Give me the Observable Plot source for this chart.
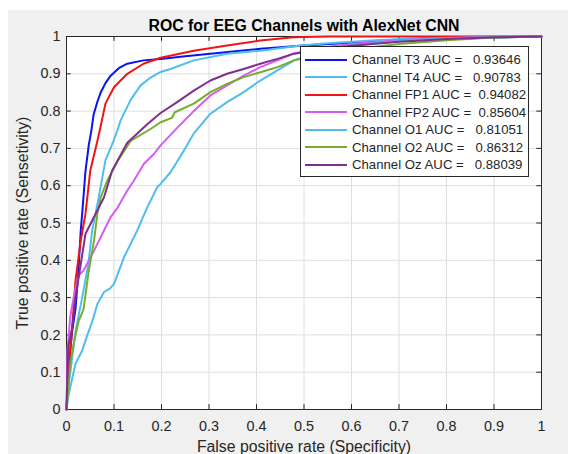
<!DOCTYPE html>
<html>
<head>
<meta charset="utf-8">
<script src="https://cdn.jsdelivr.net/npm/d3@7"></script>
<script src="https://cdn.jsdelivr.net/npm/@observablehq/plot@0.6"></script>
<style>
  body { margin: 0; background: #ffffff; }
  #wrap { position: relative; width: 568px; height: 454px; overflow: hidden; font-family: "Liberation Sans", Arial, sans-serif; }
  #bg { position: absolute; left: 8px; top: 10px; width: 560px; height: 444px; background: #f0f0f0; }
  #chart { position: absolute; left: 0; top: 0; }
  #legend { position: absolute; left: 300px; top: 46px; width: 227px; height: 125px; background: #fff; border: 1px solid #262626; padding-top: 4px; box-sizing: content-box; }
  .row { display: flex; align-items: center; height: 17.5px; }
  .sw { width: 42px; height: 2px; margin-left: 4px; margin-right: 5px; }
  .lab { font-size: 13.2px; color: #262626; white-space: pre; }
</style>
</head>
<body>
<div id="wrap"><div id="bg"></div><div id="chart"></div><div id="legend"></div></div>
<script>
const titleText = "ROC for EEG Channels with AlexNet CNN";
const xLabel = "False positive rate (Specificity)";
const yLabel = "True positive rate (Sensetivity)";
const xTicks = [0, 0.1, 0.2, 0.3, 0.4, 0.5, 0.6, 0.7, 0.8, 0.9, 1];
const yTicks = [0, 0.1, 0.2, 0.3, 0.4, 0.5, 0.6, 0.7, 0.8, 0.9, 1];

const channels = ["T3", "T4", "FP1", "FP2", "O1", "O2", "Oz"];
const aucs = ["0.93646", "0.90783", "0.94082", "0.85604", "0.81051", "0.86312", "0.88039"];
const pads = ["   ", "   ", "  ", "  ", "   ", "   ", "   "];
const colors = ["#0a14f0", "#4dbeee", "#f01414", "#d65cf2", "#4dbeee", "#77ac30", "#7e2f8e"];

const rocT3 = [[0,0],[0.003,0.08],[0.008,0.16],[0.012,0.21],[0.019,0.27],[0.025,0.37],[0.03,0.48],[0.033,0.525],[0.04,0.64],[0.047,0.71],[0.052,0.745],[0.057,0.79],[0.065,0.825],[0.072,0.85],[0.082,0.875],[0.093,0.895],[0.11,0.915],[0.128,0.927],[0.162,0.936],[0.198,0.94],[0.25,0.947],[0.303,0.954],[0.35,0.96],[0.408,0.967],[0.5,0.976],[0.6,0.983],[0.7,0.988],[0.8,0.993],[0.9,0.997],[1,1]];
const rocT4 = [[0,0],[0.005,0.07],[0.011,0.13],[0.019,0.21],[0.033,0.3],[0.046,0.39],[0.054,0.48],[0.068,0.57],[0.082,0.668],[0.099,0.72],[0.107,0.748],[0.114,0.775],[0.135,0.83],[0.156,0.869],[0.177,0.89],[0.198,0.905],[0.219,0.913],[0.268,0.936],[0.338,0.954],[0.408,0.962],[0.493,0.976],[0.55,0.982],[0.65,0.99],[0.75,0.996],[0.85,0.999],[1,1]];
const rocFP1 = [[0,0],[0.004,0.1],[0.008,0.16],[0.012,0.22],[0.019,0.346],[0.03,0.453],[0.04,0.525],[0.05,0.64],[0.065,0.72],[0.072,0.76],[0.082,0.82],[0.1,0.864],[0.128,0.9],[0.162,0.927],[0.198,0.943],[0.268,0.962],[0.338,0.976],[0.408,0.989],[0.478,0.998],[0.55,1],[1,1]];
const rocFP2 = [[0,0],[0.001,0.06],[0.002,0.16],[0.008,0.25],[0.018,0.32],[0.026,0.36],[0.036,0.373],[0.058,0.426],[0.075,0.47],[0.093,0.516],[0.107,0.54],[0.128,0.587],[0.141,0.612],[0.163,0.659],[0.184,0.685],[0.198,0.708],[0.233,0.755],[0.268,0.8],[0.303,0.842],[0.338,0.869],[0.373,0.895],[0.408,0.918],[0.444,0.936],[0.478,0.954],[0.52,0.967],[0.6,0.98],[0.7,0.99],[0.8,0.996],[0.9,0.999],[1,1]];
const rocO1 = [[0,0],[0.003,0.03],[0.008,0.06],[0.019,0.123],[0.033,0.158],[0.044,0.2],[0.054,0.235],[0.065,0.283],[0.079,0.315],[0.092,0.325],[0.1,0.337],[0.121,0.408],[0.149,0.48],[0.17,0.542],[0.191,0.596],[0.198,0.605],[0.219,0.636],[0.233,0.665],[0.247,0.694],[0.268,0.74],[0.303,0.793],[0.338,0.824],[0.373,0.851],[0.408,0.882],[0.444,0.909],[0.479,0.936],[0.52,0.955],[0.6,0.975],[0.7,0.988],[0.8,0.995],[0.9,0.998],[1,1]];
const rocO2 = [[0,0],[0.004,0.06],[0.008,0.123],[0.015,0.176],[0.026,0.239],[0.03,0.25],[0.036,0.27],[0.047,0.373],[0.058,0.453],[0.065,0.525],[0.072,0.569],[0.086,0.614],[0.107,0.665],[0.135,0.72],[0.177,0.752],[0.198,0.77],[0.222,0.782],[0.228,0.797],[0.268,0.82],[0.303,0.851],[0.338,0.873],[0.373,0.891],[0.408,0.904],[0.444,0.918],[0.479,0.936],[0.52,0.947],[0.6,0.965],[0.7,0.98],[0.8,0.99],[0.9,0.997],[1,1]];
const rocOz = [[0,0],[0.002,0.1],[0.004,0.17],[0.012,0.22],[0.019,0.3],[0.03,0.39],[0.04,0.471],[0.058,0.516],[0.079,0.569],[0.096,0.64],[0.128,0.715],[0.17,0.765],[0.198,0.795],[0.233,0.824],[0.268,0.855],[0.303,0.882],[0.338,0.9],[0.373,0.913],[0.408,0.927],[0.444,0.94],[0.479,0.954],[0.52,0.962],[0.6,0.975],[0.7,0.986],[0.8,0.993],[0.9,0.998],[1,1]];
const rocs = [rocT3, rocT4, rocFP1, rocFP2, rocO1, rocO2, rocOz];

const ink = "#262626";
const lineMarks = rocs.map((r, i) => Plot.line(r, {x: d => d[0], y: d => d[1], stroke: colors[i], strokeWidth: 2}));

const plot = Plot.plot({
  width: 568,
  height: 454,
  marginLeft: 66,
  marginRight: 27,
  marginTop: 36,
  marginBottom: 45,
  style: {fontFamily: "'Liberation Sans', Arial, sans-serif", fontSize: "14px", background: "transparent", color: ink},
  x: {domain: [0, 1], label: null},
  y: {domain: [0, 1], label: null},
  marks: [
    Plot.frame({fill: "white", stroke: null}),
    Plot.gridX(xTicks, {stroke: "#dedede", strokeOpacity: 1}),
    Plot.gridY(yTicks, {stroke: "#dedede", strokeOpacity: 1}),
    Plot.frame({stroke: ink, strokeWidth: 1}),
    Plot.ruleX(xTicks, {x: d => d, y1: 0, y2: 0.013, stroke: ink}),
    Plot.ruleX(xTicks, {x: d => d, y1: 1, y2: 0.987, stroke: ink}),
    Plot.ruleY(yTicks, {y: d => d, x1: 0, x2: 0.01, stroke: ink}),
    Plot.ruleY(yTicks, {y: d => d, x1: 1, x2: 0.99, stroke: ink}),
    ...lineMarks,
    Plot.axisX(xTicks, {anchor: "bottom", tickSize: 0, tickPadding: 11, tickFormat: d => String(d), fontSize: 14.4, fill: ink, label: null}),
    Plot.axisY(yTicks, {anchor: "left", tickSize: 0, tickPadding: 6, tickFormat: d => String(d), fontSize: 14.4, fill: ink, label: null}),
    Plot.text([titleText], {frameAnchor: "top", dy: -11, lineAnchor: "middle", textAnchor: "middle", fontWeight: "bold", fontSize: 15.8, fill: "#000"}),
    Plot.text([xLabel], {frameAnchor: "bottom", dy: 37, lineAnchor: "middle", textAnchor: "middle", fontSize: 15.8, fill: ink}),
    Plot.text([yLabel], {frameAnchor: "left", dx: -44, rotate: -90, lineAnchor: "middle", textAnchor: "middle", fontSize: 15.8, fill: ink})
  ]
});
document.getElementById("chart").appendChild(plot);

const leg = document.getElementById("legend");
channels.forEach((c, i) => {
  const row = document.createElement("div");
  row.className = "row";
  const sw = document.createElement("div");
  sw.className = "sw";
  sw.style.background = colors[i];
  const lab = document.createElement("span");
  lab.className = "lab";
  lab.textContent = `Channel ${c} AUC =${pads[i]}${aucs[i]}`;
  row.appendChild(sw);
  row.appendChild(lab);
  leg.appendChild(row);
});
</script>
</body>
</html>
